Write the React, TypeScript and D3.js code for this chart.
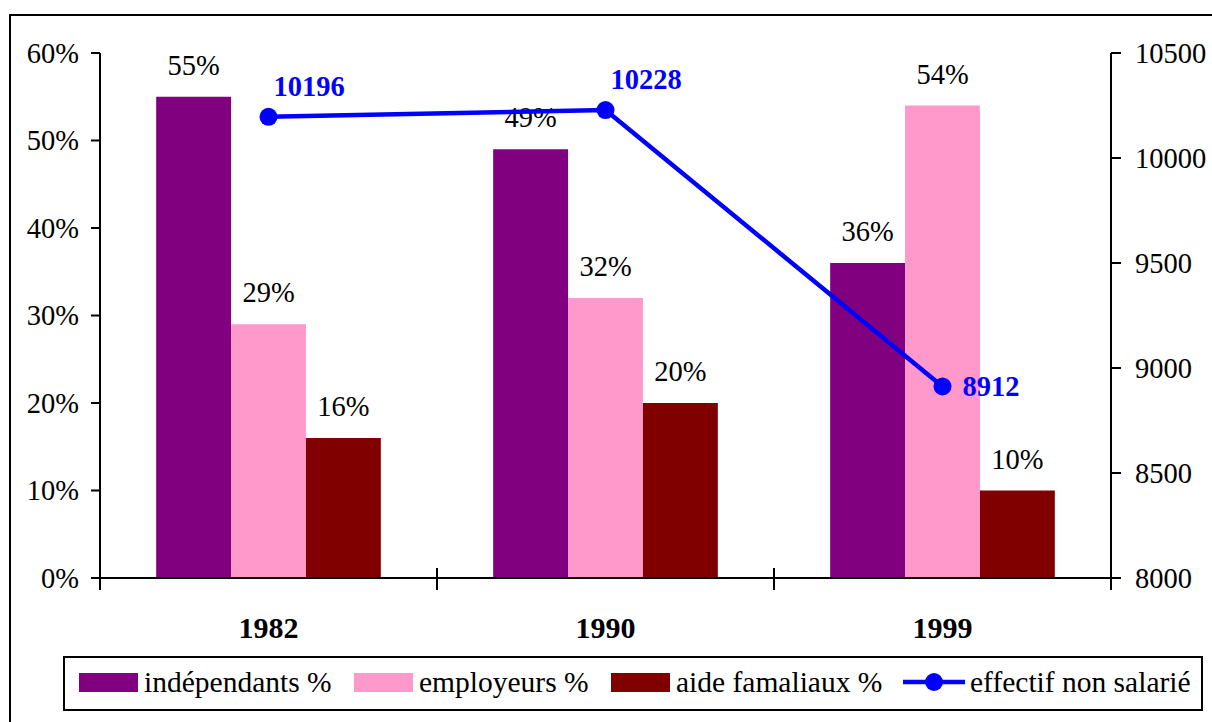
import { scaleBand, scaleLinear, line, range } from 'd3'

// data
const years = ['1982', '1990', '1999']
const seriesNames = ['indépendants %', 'employeurs %', 'aide famaliaux %']
const independants = [0.55, 0.49, 0.36]
const employeurs = [0.29, 0.32, 0.54]
const aideFamiliaux = [0.16, 0.2, 0.1]
const effectif = [10196, 10228, 8912]
const lineName = 'effectif non salarié'
const pctTicks = [0, 0.1, 0.2, 0.3, 0.4, 0.5, 0.6]
const countTicks = [8000, 8500, 9000, 9500, 10000, 10500]

const colors = ['#800080', '#FF99CC', '#800000']
const blue = '#0000FF'
const txt = { fontFamily: "'Liberation Serif', 'Times New Roman', serif" }

const W = 1212
const H = 722
const left = 100
const right = 1111
const top = 53
const bottom = 578

export default function App() {
  const x0 = scaleBand<string>().domain(years).range([left, right]).padding(0)
  const x1 = scaleBand<string>()
    .domain(seriesNames)
    .range([0, x0.bandwidth()])
    .paddingInner(0)
    .paddingOuter(0.75)
  const yPct = scaleLinear().domain([0, 0.6]).range([bottom, top])
  const yCount = scaleLinear().domain([8000, 10500]).range([bottom, top])

  const seriesValues = [independants, employeurs, aideFamiliaux]
  const cx = (y: string) => (x0(y) ?? 0) + x0.bandwidth() / 2

  const pts: [number, number][] = years.map((y, i) => [cx(y), yCount(effectif[i])])
  const path = line()(pts) ?? ''

  // legend layout
  const legendSwatchX = [79, 354, 611]
  const legendY = 673

  return (
    <svg width={W} height={H} style={{ position: 'absolute', left: 0, top: 0, background: '#fff' }}>
      <rect x={0} y={0} width={W} height={H} fill="#fff" />
      {/* outer frame */}
      <rect x={10} y={15} width={W} height={H} fill="none" stroke="#000" strokeWidth={2} />

      {/* bars */}
      {years.map((yr, i) => (
        <g key={yr} transform={`translate(${x0(yr)},0)`}>
          {seriesNames.map((s, k) => {
            const v = seriesValues[k][i]
            const bx = x1(s) ?? 0
            return (
              <g key={s}>
                <rect
                  x={bx}
                  y={yPct(v)}
                  width={x1.bandwidth()}
                  height={bottom - yPct(v)}
                  fill={colors[k]}
                />
                <text
                  x={bx + x1.bandwidth() / 2}
                  y={yPct(v) - 22}
                  textAnchor="middle"
                  fontSize={28.5}
                  fill="#000"
                  style={txt}
                >
                  {Math.round(v * 100)}%
                </text>
              </g>
            )
          })}
        </g>
      ))}

      {/* left axis */}
      <line x1={left} y1={top} x2={left} y2={bottom + 12} stroke="#000" strokeWidth={2} />
      {pctTicks.map((t) => (
        <g key={t}>
          <line x1={left - 9} x2={left} y1={yPct(t)} y2={yPct(t)} stroke="#000" strokeWidth={2} />
          <text
            x={left - 21}
            y={yPct(t)}
            dy="0.35em"
            textAnchor="end"
            fontSize={28.5}
            fill="#000"
            style={txt}
          >
            {Math.round(t * 100)}%
          </text>
        </g>
      ))}

      {/* right axis */}
      <line x1={right} y1={top} x2={right} y2={bottom + 12} stroke="#000" strokeWidth={2} />
      {countTicks.map((t) => (
        <g key={t}>
          <line x1={right} x2={right + 10} y1={yCount(t)} y2={yCount(t)} stroke="#000" strokeWidth={2} />
          <text x={right + 24} y={yCount(t)} dy="0.35em" fontSize={28.5} fill="#000" style={txt}>
            {t}
          </text>
        </g>
      ))}

      {/* category axis */}
      <line x1={left} x2={right} y1={bottom} y2={bottom} stroke="#000" strokeWidth={2} />
      {range(1, years.length).map((i) => {
        const bx = left + i * x0.step()
        return <line key={i} x1={bx} x2={bx} y1={bottom - 10} y2={bottom + 12} stroke="#000" strokeWidth={2} />
      })}
      {years.map((yr) => (
        <text
          key={yr}
          x={cx(yr)}
          y={638}
          textAnchor="middle"
          fontSize={30}
          fontWeight="bold"
          fill="#000"
          style={txt}
        >
          {yr}
        </text>
      ))}

      {/* line series */}
      <path d={path} fill="none" stroke={blue} strokeWidth={4.5} />
      {pts.map(([px, py], i) => (
        <g key={i}>
          <circle cx={px} cy={py} r={9} fill={blue} />
          {i < pts.length - 1 ? (
            <text x={px + 5} y={py - 21} fontSize={28.5} fontWeight="bold" fill={blue} style={txt}>
              {effectif[i]}
            </text>
          ) : (
            <text x={px + 20} y={py} dy="0.35em" fontSize={28.5} fontWeight="bold" fill={blue} style={txt}>
              {effectif[i]}
            </text>
          )}
        </g>
      ))}

      {/* legend */}
      <rect x={64} y={657} width={1138} height={53} fill="#fff" stroke="#000" strokeWidth={2} />
      {seriesNames.map((s, k) => (
        <g key={s}>
          <rect x={legendSwatchX[k]} y={legendY} width={59} height={19} fill={colors[k]} />
          <text x={legendSwatchX[k] + 65} y={legendY + 19} fontSize={29.5} fill="#000" style={txt}>
            {s}
          </text>
        </g>
      ))}
      <line x1={903} x2={965} y1={legendY + 9} y2={legendY + 9} stroke={blue} strokeWidth={4.5} />
      <circle cx={934} cy={legendY + 9} r={9} fill={blue} />
      <text x={970} y={legendY + 19} fontSize={29.5} fill="#000" style={txt}>
        {lineName}
      </text>
    </svg>
  )
}
